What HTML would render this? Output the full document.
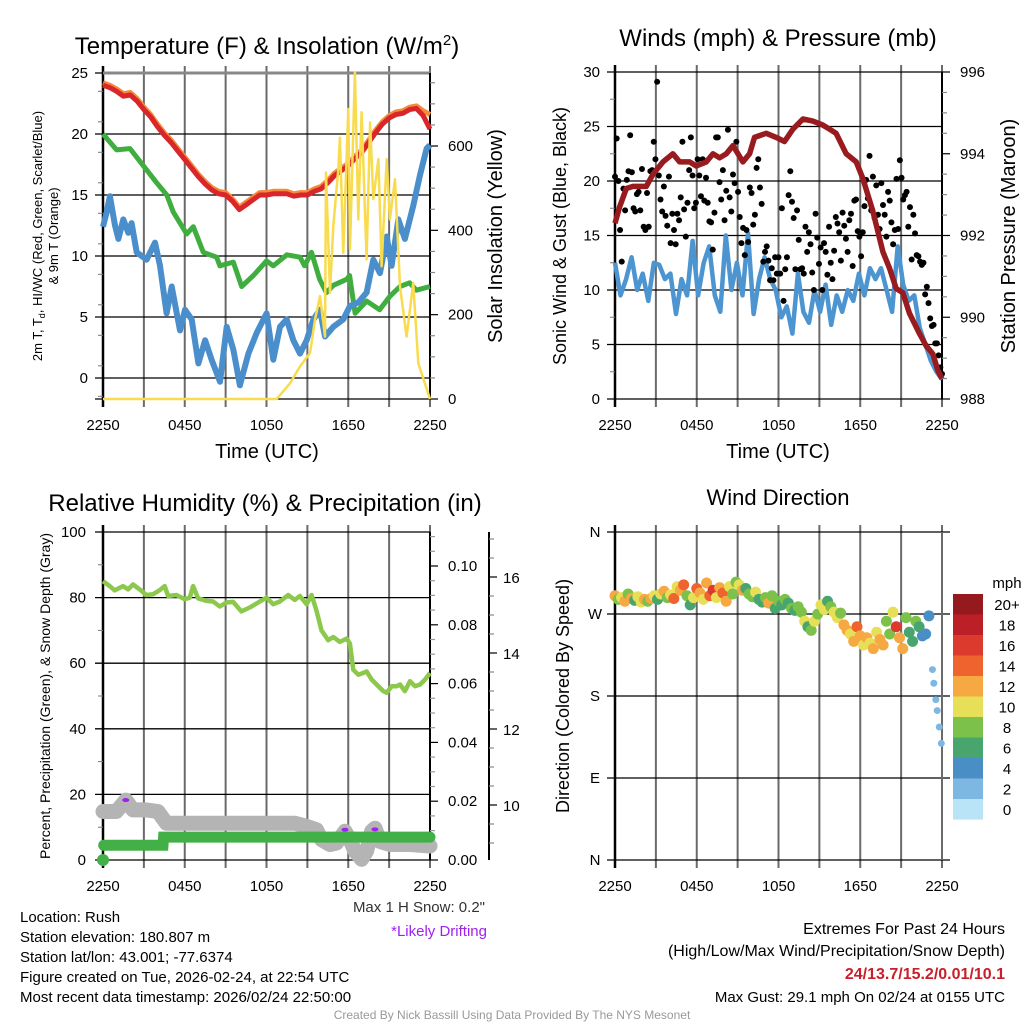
<!DOCTYPE html>
<html><head><meta charset="utf-8"><style>
html,body{margin:0;padding:0;background:#fff;}
svg{display:block;font-family:"Liberation Sans",Arial,sans-serif;}
</style></head><body>
<svg id="chart" xmlns="http://www.w3.org/2000/svg" width="1024" height="1024" viewBox="0 0 1024 1024">
<rect width="1024" height="1024" fill="#fff"/>
</svg>
<script>
// ---------- DATA ----------
const timeTickLabels = ["2250","0450","1050","1650","2250"];
// Panel 1: temperature (F)
const tempT = [0,0.5,1,1.5,2,2.5,3,3.5,4,4.5,5,5.5,6,6.5,7,7.5,8,8.5,9,9.5,10,10.5,11,11.5,12,12.5,13,13.5,14,14.5,15,15.5,16,16.5,17,17.5,18,18.5,19,19.5,20,20.5,21,21.5,22,22.5,23,23.5,24];
const tempRed = [24.0,23.8,23.5,23.1,23.2,22.7,22.0,21.4,20.6,19.9,19.3,18.6,17.9,17.2,16.5,15.9,15.4,15.1,15.0,14.5,13.8,14.2,14.6,15.0,15.0,15.1,15.1,15.1,14.9,15.0,15.0,15.3,15.5,16.0,16.6,17.0,17.4,18.0,18.5,19.3,20.1,20.8,21.3,21.6,21.7,22.0,22.1,21.5,20.4];
const tempOrange = [24.2,24.0,23.7,23.3,23.4,22.9,22.2,21.6,20.8,20.1,19.5,18.8,18.1,17.4,16.7,16.1,15.6,15.3,15.2,14.7,14.0,14.4,14.8,15.2,15.2,15.3,15.3,15.3,15.1,15.2,15.2,15.5,15.7,16.2,16.8,17.2,17.6,18.2,18.7,19.5,20.3,21.0,21.5,21.8,21.9,22.2,22.3,21.9,21.6];
const dewT = [0,1.0,1.98,2.96,3.94,4.68,5.16,6.14,6.63,7.36,8.34,8.58,9.56,10.18,11.04,12.0,12.5,13.5,14.46,14.8,15.3,15.9,16.4,16.9,17.9,18.1,18.5,19.35,20.3,21.06,21.8,22.5,23.0,24];
const dewV = [20.0,18.7,18.8,17.4,16.0,15.0,13.6,11.8,12.4,10.3,9.9,9.2,9.5,7.5,8.4,9.6,9.2,10.1,9.9,9.2,10.3,8.1,7.0,7.6,8.1,8.4,5.3,6.3,5.6,6.7,7.5,7.8,7.2,7.5];
const chillT = [0,0.27,0.51,0.88,1.13,1.49,1.86,2.10,2.47,3.20,3.82,4.18,4.67,5.04,5.65,6.02,6.51,7.0,7.49,7.97,8.59,9.08,9.57,10.05,10.67,11.28,12.01,12.5,12.99,13.48,13.97,14.46,14.95,15.44,15.93,16.29,16.9,17.64,18.13,18.74,19.35,19.84,20.33,20.82,21.18,21.67,22.16,22.77,23.26,23.75,24];
const chillV = [12.4,13.6,14.9,12.5,11.4,13.0,11.9,12.7,10.3,9.7,11.1,9.2,5.3,7.5,3.9,5.6,4.8,1.2,3.1,1.5,-0.3,4.2,2.3,-0.6,2.0,3.7,5.3,1.5,4.2,4.8,3.1,2.0,3.1,4.8,5.6,3.4,4.2,4.8,5.9,6.2,7.0,9.7,8.6,11.6,9.2,13.0,11.4,14.1,16.6,18.8,19.1];
const solarT = [0,12.75,13.72,14.46,15.19,15.56,15.93,16.29,16.37,16.66,16.9,17.27,17.39,17.64,18.0,18.13,18.49,18.74,18.98,19.35,19.6,19.84,20.21,20.45,20.82,21.06,21.43,21.8,22.28,22.77,23.14,24];
const solarV = [0,0,37,77,109,188,244,148,537,252,410,545,620,347,688,355,775,426,680,331,656,474,569,315,569,426,521,267,148,275,85,0];
const tempTicks = [0,5,10,15,20,25];
const solarTicks = [0,200,400,600];
// Panel 2: winds & pressure
const windV = [12.5,9.5,11,13,10,11.5,9,12.5,12.3,11,11.5,7.8,11,9.5,14.5,9.5,12.5,14,9.5,8,15,10,12.5,9.5,15.2,7.8,11,13,11,10,7.5,8.5,6,11.5,8,7,10,8,10.5,6.8,9.5,8,10,9,11.5,9.5,12,11,12,10,8,14,10.5,9,9.5,6.5,5,3.5,2.5,1.8];
const gustV = [20.4,23.9,20,15.5,12.6,19.3,17.3,20.1,20.9,24.2,20.8,17.5,17.2,18.8,19,17.3,21.1,15.8,15.5,18.9,15.8,20.9,21,23.6,22,29.1,20.5,18.3,17.2,19.5,16.8,15.9,20.4,14.3,17,15.5,14.2,17,16.4,18.5,23.6,17.4,14.9,18,21,24,20.5,17.5,18,22,20.5,18.6,22,18.2,20.3,18,16.3,16.2,13.7,17.1,24,24,19.9,18.3,21,16.4,19.1,24.7,18.5,17.2,20.6,19.8,23.6,19,16.7,14.3,15.7,13.2,15.5,14.4,19.4,18.9,16,16.9,21.2,22,19.4,17.9,12.6,13.5,14,12.7,10.9,12,10.9,13,11.5,13,11.5,17.5,9,11.9,13,18.7,20.9,18.1,16.6,11.9,17.3,14.6,11.9,12,11.5,15.8,13.5,15.3,14.2,11.6,10,17,14.8,12.4,13.9,10,14.3,13.5,11.4,15.8,12.5,11,13.6,16.7,16.1,15.3,12.7,17.1,15.9,14.7,13.5,16.4,17,12.2,18.2,18.3,15.4,14.9,13.1,15.3,17.7,20.1,18.4,22.3,17.3,20.4,16.6,19.6,16.9,15.6,19.8,17.8,16.9,14.9,19,18.2,16.2,14.2,15.5,20.2,15.6,21.9,20.3,18.3,18.7,19,15.8,17.6,12.8,16.9,15.2,13.2,13.1,12.6,12.3,12.5,9.6,10.3,8.8,7.4,6.7,6.8,5.1,5.1,4,2.9,2.3];
const presT = [0,0.34,0.83,1.32,2.3,2.79,3.52,4.25,4.74,5.48,5.97,6.7,7.19,7.68,8.17,8.66,9.39,9.88,10.24,11.1,11.83,12.44,13.06,13.79,14.52,15.26,15.75,16.23,16.97,17.7,18.19,18.92,19.66,20.15,20.64,21.12,21.61,22.35,22.84,23.33,23.69,24];
const presV = [992.3,992.7,993.15,993.2,993.2,993.5,993.8,994.0,993.8,993.8,993.7,993.8,994.0,993.9,994.0,994.2,993.8,994.0,994.4,994.5,994.4,994.3,994.6,994.85,994.8,994.7,994.6,994.5,994.0,993.8,993.4,992.6,991.6,991.2,990.7,990.6,990.1,989.6,989.3,989.1,988.7,988.5];
const windTicks = [0,5,10,15,20,25,30];
const presTicks = [988,990,992,994,996];
// Panel 3: RH, precip, snow depth
const rhT = [0,0.49,0.86,1.47,1.84,2.2,2.69,3.18,3.67,4.16,4.53,4.78,5.39,6.0,6.37,6.61,6.98,7.59,8.08,8.57,9.06,9.55,10.16,10.78,11.51,12.0,12.49,12.98,13.59,14.08,14.45,14.94,15.31,15.67,16.04,16.53,16.9,17.39,17.88,18.12,18.37,18.74,19.1,19.35,19.72,20.08,20.57,20.82,21.19,21.55,21.8,22.16,22.53,22.9,23.27,23.63,24];
const rhV = [85,83.5,82.2,83.5,82.5,84,82.5,80.8,81,82.3,83.5,80.5,80.8,79.5,80,83.5,79.8,79,78.8,77.3,78.5,78.7,75.8,77,78.8,80,78,78.8,80.8,79.3,80.5,78,80.8,76,70,67,68,66.5,67.5,66,58,56.5,57,57.5,55,53.5,51.5,51,53,53,53.5,51.5,54.5,53,53.5,55,57];
const precipT = [0.05,4.4,4.45,24];
const precipV = [0.005,0.005,0.0078,0.0078];
const snowT = [0,0.98,1.67,2.2,3.18,4.04,4.65,6.12,9.55,13.23,14.08,14.94,15.67,16.04,16.65,17.14,17.76,18.12,18.49,18.98,19.35,19.72,19.96,20.33,21.06,22.53,24];
const snowV = [9.83,9.83,10.13,9.87,9.87,9.83,9.52,9.52,9.52,9.52,9.52,9.44,9.35,9.09,8.96,9.0,9.31,9.09,8.79,8.57,8.79,9.31,9.39,9.04,8.96,8.96,8.92];
const driftT = [1.67,17.76,19.96];
const driftV = [10.13,9.35,9.36];
const rhTicks = [0,20,40,60,80,100];
const precipTicks = ["0.00","0.02","0.04","0.06","0.08","0.10"];
const snowTicks = [10,12,14,16];
// Panel 4: wind direction
const dirV = [290,286,288,284,292,287,285,289,283,286,284,287,290,286,292,295,288,291,287,300,296,302,290,280,288,298,293,286,304,290,296,288,299,293,284,300,292,305,302,296,298,292,289,294,286,283,288,282,290,276,284,280,286,282,276,274,278,272,262,256,252,262,270,280,275,284,278,272,266,271,258,252,248,240,256,246,236,244,238,232,250,242,236,262,248,272,256,244,232,266,250,240,262,256,246,248,268];
const dirSpd = [12,8,10,13,9,12,7,10,11,12,9,12,11,7,10,13,9,11,14,10,12,15,9,6,11,15,13,10,12,14,16,10,12,15,13,11,9,8,11,12,7,8,9,10,7,6,8,12,9,6,8,7,9,6,8,7,8,9,10,7,8,10,9,11,10,7,9,10,11,8,12,13,11,12,14,12,10,13,11,12,10,12,13,8,9,10,16,12,13,8,7,6,8,6,5,4,4];
const tailT = [23.3,23.4,23.55,23.65,23.8,23.95];
const tailDir = [209,194,176,164,146,128];
const tailSpd = [2.5,2.5,2.5,2.5,2.5,2.5];
const dirTicks = [0,90,180,270,360];
const dirTickLabels = ["N","E","S","W","N"];
const cbarLabels = ["20+","18","16","14","12","10","8","6","4","2","0"];
const cbarColors = ["#951a1d","#bd1f27","#dc3a2d","#ef632e","#f6a843","#e7df58","#7bc14a","#48a56e","#4a8ec6","#7db8e2","#b9e3f7"];

// ---------- DRAWING ----------
const NS = "http://www.w3.org/2000/svg";
const svg = document.getElementById("chart");
function mk(tag, attrs, parent){
  const e = document.createElementNS(NS, tag);
  for (const k in attrs) e.setAttribute(k, attrs[k]);
  (parent||svg).appendChild(e);
  return e;
}
function txt(s, x, y, size, anchor, parent, extra){
  const t = mk("text", Object.assign({x:x, y:y, "font-size":size, "text-anchor":anchor||"middle", fill:"#000"}, extra||{}), parent);
  t.textContent = s;
  return t;
}
function grp(name){
  const g = mk("g", {});
  
  
  return g;
}
function linScale(d0,d1,r0,r1){ return v => r0 + (v-d0)*(r1-r0)/(d1-d0); }
function pathD(ts, vs, xs, ys){ return ts.map((t,i)=>(i?"L":"M")+xs(t).toFixed(1)+","+ys(vs[i]).toFixed(1)).join(""); }

function timeAxis(g, x0, x1, yb, yt){
  const xs = linScale(0,24,x0,x1);
  for (let h=0; h<=24; h+=3){
    const x = xs(h);
    const l = mk("line",{x1:x,y1:yt-7,x2:x,y2:yb+8,stroke:h===0?"#000":"#6a6a6a","stroke-width":h===0?2.5:2},g);
    
    
  }
  for (let i=0;i<timeTickLabels.length;i++){
    const t = txt(timeTickLabels[i], xs(i*6), yb+31, 15, "middle", g);
    
    
  }
  return xs;
}
function hgrid(g, x0, x1, y, lab, lx, anchor, size){
  mk("line",{x1:x0-8,y1:y,x2:x1,y2:y,stroke:"#000","stroke-width":1.3},g);
  if (lab!==null){
    const t = txt(lab, lx, y+5, size||15, anchor||"end", g);
    
    
  }
}
function minorTicks(g, x, ys, from, to, step, dir){
  for (let v=from; v<=to+1e-9; v+=step){ const y=ys(v); mk("line",{x1:x,y1:y,x2:x+dir*5,y2:y,stroke:"#777","stroke-width":1},g); }
}

// ===== Panel 1 =====
{
  const g = grp("temperature-panel");
  const x0=103,x1=430, ys=linScale(0,25,378,73), yb=399;
  const xs = timeAxis(g,x0,x1,yb,73);
  minorTicks(g,x0,ys,-1.5,24,2.5,-1);
  tempTicks.forEach(v=>hgrid(g,x0,x1,ys(v),String(v),88));
  mk("line",{x1:x0,y1:ys(25),x2:x1,y2:ys(25),stroke:"#888","stroke-width":3},g);
  mk("line",{x1:x1,y1:73,x2:x1,y2:yb,stroke:"#000","stroke-width":2},g);
  mk("line",{x1:x0-8,y1:yb,x2:x1,y2:yb,stroke:"#000","stroke-width":1.3},g);
  const ss = linScale(0,600,399,146);
  for (let v=0; v<=750; v+=50){ const y=ss(v); if(y<73) break; mk("line",{x1:x1,y1:y,x2:x1+(v%200===0?8:5),y2:y,stroke:v%200===0?"#000":"#888","stroke-width":1.2},g); }
  solarTicks.forEach(v=>{ const t=txt(String(v),x1+18,ss(v)+5,15,"start",g);   });
  let p;
  p = mk("path",{d:pathD(tempT,tempOrange,xs,ys),fill:"none",stroke:"#f58a3a","stroke-width":5,"stroke-linejoin":"round"},g);
   
  p = mk("path",{d:pathD(tempT,tempRed,xs,ys),fill:"none",stroke:"#d9262a","stroke-width":5,"stroke-linejoin":"round"},g);
   
  p = mk("path",{d:pathD(dewT,dewV,xs,ys),fill:"none",stroke:"#3fae3f","stroke-width":5,"stroke-linejoin":"round"},g);
   
  p = mk("path",{d:pathD(chillT,chillV,xs,ys),fill:"none",stroke:"#4a8fcb","stroke-width":6,"stroke-linejoin":"round"},g);
   
  p = mk("path",{d:pathD(solarT,solarV,xs,ss),fill:"none",stroke:"#f8dc4e","stroke-width":2.5,"stroke-linejoin":"round"},g);
   
  let t = txt("",267,54,24,"middle",g);
  t.innerHTML = 'Temperature (F) &amp; Insolation (W/m<tspan dy="-9" font-size="15">2</tspan><tspan dy="9">)</tspan>';
   
  t = txt("Time (UTC)",267,458,20,"middle",g);
   
  t = txt("Solar Insolation (Yellow)",0,0,20,"middle",g,{transform:"translate(502,236) rotate(-90)"});
   
  t = txt("",0,0,13,"middle",g,{transform:"translate(42,236) rotate(-90)"});
  t.innerHTML = '2m T, T<tspan dy="3" font-size="9">d</tspan><tspan dy="-3">, HI/WC (Red, Green, Scarlet/Blue)</tspan>';
   
  t = txt("& 9m T (Orange)",0,0,13,"middle",g,{transform:"translate(58,236) rotate(-90)"});
   
}

// ===== Panel 2 =====
{
  const g = grp("winds-pressure-panel");
  const x0=615,x1=942, ys=linScale(0,30,399,72), yb=399;
  const xs = timeAxis(g,x0,x1,yb,72);
  minorTicks(g,x0,ys,2.5,27.5,5,-1);
  windTicks.forEach(v=>hgrid(g,x0,x1,ys(v),String(v),600));
  mk("line",{x1:x1,y1:72,x2:x1,y2:yb,stroke:"#000","stroke-width":2},g);
  const ps = linScale(988,996,399,72);
  for (let v=988; v<=996.01; v+=0.5){ const y=ps(v); const maj=Math.abs(v%2)<0.01; mk("line",{x1:x1,y1:y,x2:x1+(maj?8:5),y2:y,stroke:maj?"#000":"#888","stroke-width":1.2},g); }
  presTicks.forEach(v=>{ const t=txt(String(v),960,ps(v)+5,15,"start",g);   });
  const wt = windV.map((v,i)=>i*24/(windV.length-1));
  let p = mk("path",{d:pathD(wt,windV,xs,ys),fill:"none",stroke:"#4d95d0","stroke-width":4.5,"stroke-linejoin":"round"},g);
   
  const gg = mk("g",{},g);
   
  gustV.forEach((v,i)=>{
    const c = mk("circle",{cx:xs(i*24/(gustV.length-1)),cy:ys(v),r:3,fill:"#000"},gg);
    
    
  });
  p = mk("path",{d:pathD(presT,presV,xs,ps),fill:"none",stroke:"#981c1f","stroke-width":5.5,"stroke-linejoin":"round"},g);
   
  let t = txt("Winds (mph) & Pressure (mb)",778,46,24,"middle",g);
   
  t = txt("Time (UTC)",778,458,20,"middle",g);
   
  t = txt("Sonic Wind & Gust (Blue, Black)",0,0,18,"middle",g,{transform:"translate(566,236) rotate(-90)"});
   
  t = txt("Station Pressure (Maroon)",0,0,20,"middle",g,{transform:"translate(1015,236) rotate(-90)"});
   
}

// ===== Panel 3 =====
{
  const g = grp("humidity-precip-panel");
  const x0=103,x1=430, ys=linScale(0,100,860,532), yb=860;
  const xs = timeAxis(g,x0,x1,yb,532);
  minorTicks(g,x0,ys,10,90,20,-1);
  rhTicks.forEach(v=>hgrid(g,x0,x1,ys(v),String(v),86));
  mk("line",{x1:x1,y1:532,x2:x1,y2:yb,stroke:"#000","stroke-width":2},g);
  const pp = linScale(0,0.1,860,566);
  for (let k=0;k<=22;k++){ const v=k*0.005; const y=pp(v); if(y<532) break; const maj=k%4===0; mk("line",{x1:x1,y1:y,x2:x1+(maj?8:5),y2:y,stroke:maj?"#000":"#999","stroke-width":1.2},g); }
  precipTicks.forEach((s,i)=>{ const t=txt(s,448,pp(i*0.02)+5,15,"start",g);   });
  const sn = linScale(16,14,577,653);
  mk("line",{x1:489,y1:532,x2:489,y2:860,stroke:"#000","stroke-width":2},g);
  for (let v=7.5; v<=17.01; v+=0.5){ const y=sn(v); if(y<532||y>860) continue; const maj=Math.abs(v%2)<0.01; mk("line",{x1:489,y1:y,x2:489+(maj?8:5),y2:y,stroke:maj?"#000":"#888","stroke-width":1.2},g); }
  snowTicks.forEach(v=>{ const t=txt(String(v),503,sn(v)+6,15,"start",g);   });
  let p = mk("path",{d:pathD(snowT,snowV,xs,sn),fill:"none",stroke:"#b4b4b4","stroke-width":15,"stroke-linejoin":"round","stroke-linecap":"round"},g);
   
  driftT.forEach((tt,i)=>{ const c=mk("ellipse",{cx:xs(tt),cy:sn(driftV[i]),rx:3.5,ry:2,fill:"#a020f0"},g);   });
  p = mk("path",{d:pathD(precipT,precipV,xs,pp),fill:"none",stroke:"#43b047","stroke-width":11,"stroke-linecap":"round"},g);
   
  let c = mk("circle",{cx:xs(0),cy:pp(0),r:6,fill:"#43b047"},g);
   
  p = mk("path",{d:pathD(rhT,rhV,xs,ys),fill:"none",stroke:"#8cc84b","stroke-width":4.5,"stroke-linejoin":"round"},g);
   
  let t = txt("Relative Humidity (%) & Precipitation (in)",265,511,24,"middle",g);
   
  t = txt("Percent, Precipitation (Green), & Snow Depth (Gray)",0,0,14,"middle",g,{transform:"translate(50,696) rotate(-90)"});
   
}

// ===== Panel 4 =====
{
  const g = grp("wind-direction-panel");
  const x0=615,x1=942, ys=linScale(0,360,860,532), yb=860;
  const xs = timeAxis(g,x0,x1,yb,532);
  dirTicks.forEach((v,i)=>hgrid(g,x0,x1+8,ys(v),dirTickLabels[i],595,"middle"));
  mk("line",{x1:x1,y1:532,x2:x1,y2:yb,stroke:"#6a6a6a","stroke-width":2},g);
  const colorFor = s => cbarColors[10-Math.min(10,Math.floor(s/2))];
  const pg = mk("g",{},g);
   
  dirV.forEach((d,i)=>{
    const c = mk("circle",{cx:xs(i*0.24),cy:ys(d),r:5.5,fill:colorFor(dirSpd[i])},pg);
    
    
  });
  tailT.forEach((tt,i)=>{
    const c = mk("circle",{cx:xs(tailT[i]),cy:ys(tailDir[i]),r:3.5,fill:colorFor(tailSpd[i])},pg);
    
    
  });
  let t = txt("Wind Direction",778,505,22,"middle",g);
   
  t = txt("Direction (Colored By Speed)",0,0,18,"middle",g,{transform:"translate(569,696) rotate(-90)"});
   
  const cb = grp("speed-colorbar");
  const ty = txt("mph",1007,588,15,"middle",cb);
   
  cbarColors.forEach((col,i)=>{
    const r = mk("rect",{x:953,y:594+i*20.5,width:30,height:20.6,fill:col},cb);
    
    
    const l = txt(cbarLabels[i],1007,594+i*20.5+16,15,"middle",cb);
    
    
  });
}

// ===== Footer text =====
{
  const g = grp("footer-info");
  const left = ["Location: Rush","Station elevation: 180.807 m","Station lat/lon: 43.001; -77.6374","Figure created on Tue, 2026-02-24, at 22:54 UTC","Most recent data timestamp: 2026/02/24 22:50:00"];
  left.forEach((s,i)=>{ const t=txt(s,20,922+i*20,15,"start",g);   });
  let t = txt('Max 1 H Snow: 0.2"',485,912,15,"end",g,{fill:"#333"});
   
  t = txt("*Likely Drifting",487,936,15,"end",g,{fill:"#a020f0"});
   
  t = txt("Extremes For Past 24 Hours",1005,934,16,"end",g);
   
  t = txt("(High/Low/Max Wind/Precipitation/Snow Depth)",1005,956,16,"end",g);
   
  t = txt("24/13.7/15.2/0.01/10.1",1005,979,16,"end",g,{fill:"#c8202a","font-weight":"bold"});
   
  t = txt("Max Gust: 29.1 mph On 02/24 at 0155 UTC",1005,1002,15,"end",g);
   
  t = txt("Created By Nick Bassill Using Data Provided By The NYS Mesonet",512,1019,12,"middle",g,{fill:"#999"});
   
}
</script>
</body></html>
